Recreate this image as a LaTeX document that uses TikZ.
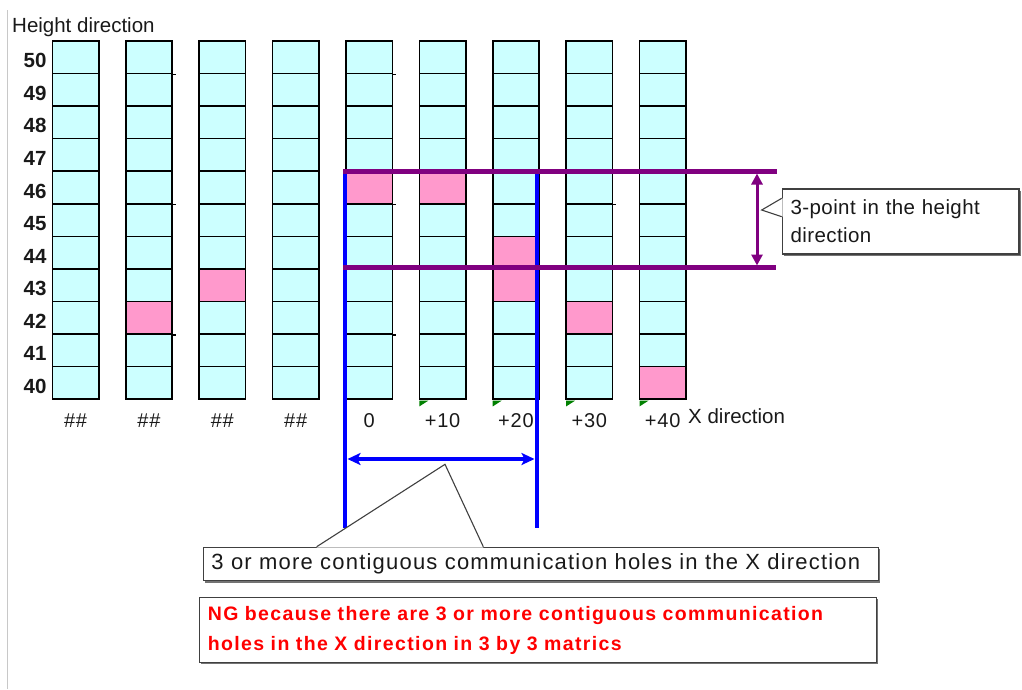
\documentclass[tikz,border=0pt]{standalone}
\usepackage{fontspec}
\setmainfont{Liberation Sans}
\usetikzlibrary{arrows.meta,shadows,calc}

\definecolor{holecyan}{HTML}{CCFFFF}
\definecolor{holepink}{HTML}{FF99CC}
\definecolor{bandpurple}{HTML}{800080}
\definecolor{spanblue}{HTML}{0000FF}
\definecolor{framegray}{HTML}{C8C8C8}
\definecolor{flaggreen}{HTML}{008000}
\definecolor{ngred}{HTML}{FF0000}
\definecolor{boxline}{HTML}{404040}

% cells that hold a communication hole: column - row index (0 = level 50)
\def\markpink#1#2{\expandafter\def\csname pinkcell-#1-#2\endcsname{}}
\markpink{2}{8}\markpink{3}{7}\markpink{5}{4}\markpink{6}{4}
\markpink{7}{6}\markpink{7}{7}\markpink{8}{8}\markpink{9}{10}

\tikzset{
  cell/.style={draw=black, line width=1.6pt, minimum width=46.5pt,
    minimum height=32.55pt, inner sep=0pt},
  gridline/.style={draw=black, line width=1.6pt},
  rowlab/.style={font=\fontsize{20.5}{24}\selectfont\bfseries, inner sep=0pt, text=black!90},
  axislab/.style={font=\fontsize{20}{24}\selectfont\addfontfeatures{LetterSpace=4}, inner sep=0pt, text=black!90},
  plainlab/.style={font=\fontsize{20.5}{24}\selectfont, inner sep=0pt, text=black!90},
  spanline/.style={draw=spanblue, line width=4.5pt},
  spanarrow/.style={draw=spanblue, line width=3.5pt,
    {Stealth[length=13pt,width=12pt,inset=3pt]}-{Stealth[length=13pt,width=12pt,inset=3pt]}},
  bandline/.style={draw=bandpurple, line width=4.5pt},
  bandarrow/.style={draw=bandpurple, line width=3pt,
    {Triangle[length=11pt,width=11pt]}-{Triangle[length=11pt,width=11pt]}},
  notebox/.style={draw=boxline, line width=1.2pt, fill=white, inner ysep=0pt,
    drop shadow={shadow xshift=1.8pt, shadow yshift=-1.8pt, fill=black!55, opacity=1}},
  pointer/.style={draw=boxline, line width=1.1pt},
}

\begin{document}
\begin{tikzpicture}[x=1pt,y=-1pt]
\useasboundingbox (0,0) rectangle (1022,689);

% left frame line
\coordinate (frameTop) at (7.5,10);
\coordinate (frameBot) at (7.5,689);
\draw[framegray, line width=1.5pt] (frameTop) -- (frameBot);

% columns of cells
\foreach \c in {1,...,9}{
  \foreach \k in {0,...,10}{
    \pgfmathsetmacro\cx{52.3+73.4*(\c-1)+23.25}
    \pgfmathsetmacro\cy{41+32.55*\k+16.275}
    \ifcsname pinkcell-\c-\k\endcsname\def\cellfill{holepink}\else\def\cellfill{holecyan}\fi
    \node[cell, fill=\cellfill] (c\c r\k) at (\cx,\cy) {};
  }
}

% row lines that stick out past the column edge
\foreach \c/\k in {2/0,2/4,2/8,5/0,5/4,5/8,8/4}{
  \draw[gridline] (c\c r\k.south east) -- ++(3,0);
}

% height labels
\node[plainlab, anchor=base west] (htitle) at (12,32.3) {Height direction};
\foreach \k in {0,...,10}{
  \pgfmathtruncatemacro\lab{50-\k}
  \node[rowlab, anchor=east] (hl\lab) at ($(c1r\k.west)+(-4.8,3.5)$) {\lab};
}

% X labels
\foreach \c/\t in {1/\#\#,2/\#\#,3/\#\#,4/\#\#,5/0,6/+10,7/+20,8/+30,9/+40}{
  \node[axislab, anchor=base] (xl\c) at ($(c\c r10.south)+(0,27.2)$) {\t};
}
\node[plainlab, anchor=base west] (xtitle) at (688,423) {X direction};

% small green corner flags
\foreach \c in {6,...,9}{
  \fill[flaggreen] ($(c\c r10.south west)+(0.8,0.8)$) -- ++(9,0) -- ++(-9,5.8) -- cycle;
}

% blue span of three columns
\coordinate (spanLtop) at (345,169.5);
\coordinate (spanLbot) at (345,528);
\coordinate (spanRtop) at (537,172);
\coordinate (spanRbot) at (537,528);
\draw[spanline] (spanLtop) -- (spanLbot);
\draw[spanline] (spanRtop) -- (spanRbot);

% purple band of three levels
\coordinate (bandTL) at (343,171.5);
\coordinate (bandTR) at (777,171.5);
\coordinate (bandBL) at (343,267.5);
\coordinate (bandBR) at (776,267.5);
\draw[bandline] (bandTL) -- (bandTR);
\draw[bandline] (bandBL) -- (bandBR);
\coordinate (bandArrTop) at (757,173.5);
\coordinate (bandArrBot) at (757,265.5);
\draw[bandarrow] (bandArrTop) -- (bandArrBot);

% blue width arrow
\coordinate (spanArrL) at (347.5,459);
\coordinate (spanArrR) at (534.5,459);
\draw[spanarrow] (spanArrL) -- (spanArrR);

% callout for the height band
\node[notebox, anchor=north west, minimum width=236.6pt, minimum height=65pt,
  text width=220pt, inner xsep=8.3pt, align=left,
  font=\fontsize{20.5}{28}\selectfont\addfontfeatures{LetterSpace=2}, text=black!90]
  (heightnote) at (781.7,188.3) {3-point in the height\\direction};
\coordinate (heightTip) at (761.7,210);
\fill[white] ($(heightnote.north west)+(0.8,10)$) -- (heightTip) -- ($(heightnote.north west)+(0.8,28.4)$) -- cycle;
\draw[pointer] ($(heightnote.north west)+(0,10)$) -- (heightTip) -- ($(heightnote.north west)+(0,28.4)$);

% callout for the X span
\node[notebox, anchor=north west, minimum width=675.3pt, minimum height=33.5pt,
  text width=659pt, inner xsep=8pt, align=left,
  font=\fontsize{22}{26}\selectfont\addfontfeatures{LetterSpace=5.5}, text=black!90]
  (holesnote) at (202.7,546.7) {3 or more contiguous communication holes in the X direction};
\coordinate (holesTip) at (445,464.3);
\fill[white] ($(holesnote.north west)+(114,0.8)$) -- (holesTip) -- ($(holesnote.north west)+(280.6,0.8)$) -- cycle;
\draw[pointer] ($(holesnote.north west)+(114,0)$) -- (holesTip) -- ($(holesnote.north west)+(280.6,0)$);

% verdict box
\node[notebox, anchor=north west, minimum width=677.5pt, minimum height=65pt,
  text width=660pt, inner xsep=8.5pt, align=left,
  font=\fontsize{19.5}{30}\selectfont\bfseries\addfontfeatures{LetterSpace=7}, text=ngred]
  (verdict) at (198.5,597) {NG because there are 3 or more contiguous communication\\holes in the X direction in 3 by 3 matrics};
\end{tikzpicture}
\end{document}
